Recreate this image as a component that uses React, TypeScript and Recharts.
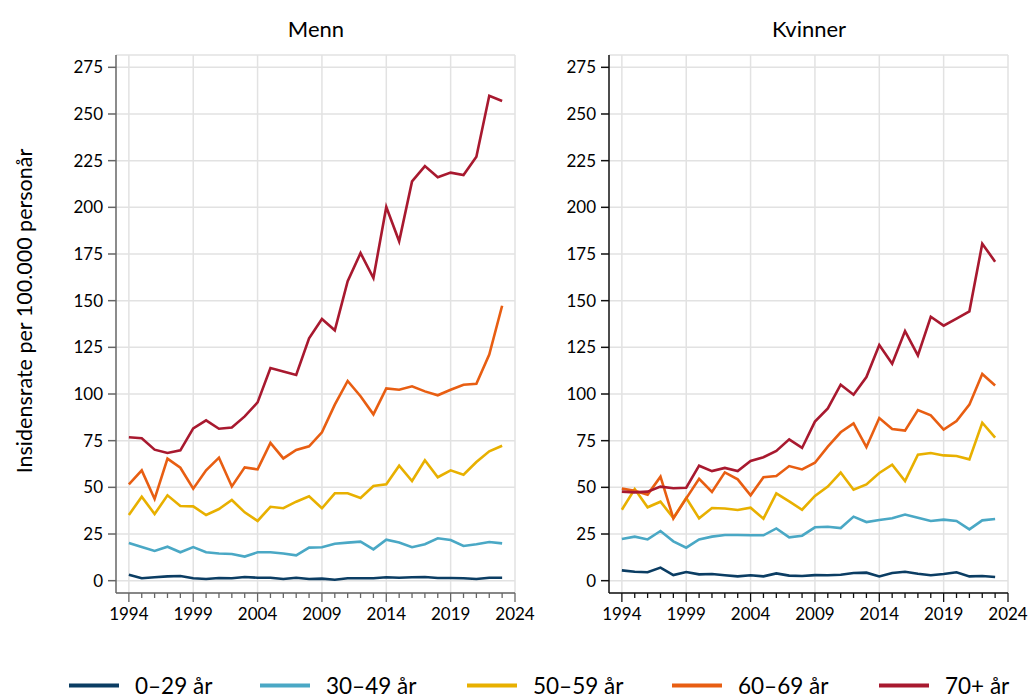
import React from 'react';
import { LineChart, Line, XAxis, YAxis, CartesianGrid, ReferenceLine } from 'recharts';

const years = [
  1994, 1995, 1996, 1997, 1998, 1999, 2000, 2001, 2002, 2003,
  2004, 2005, 2006, 2007, 2008, 2009, 2010, 2011, 2012, 2013,
  2014, 2015, 2016, 2017, 2018, 2019, 2020, 2021, 2022, 2023,
];
const xTicks = [...years, 2024];
const majorYears = [1994, 1999, 2004, 2009, 2014, 2019, 2024];
const yTicks = [0, 25, 50, 75, 100, 125, 150, 175, 200, 225, 250, 275];

const groups = ['0–29 år', '30–49 år', '50–59 år', '60–69 år', '70+ år'];
const groupKeys = ['g0', 'g1', 'g2', 'g3', 'g4'];
const groupColors = ['#0b3d63', '#4aa8c5', '#e8b000', '#e85e12', '#a8192f'];

// Menn
const menn0_29 = [3.2, 1.3, 1.8, 2.3, 2.5, 1.3, 0.9, 1.4, 1.3, 2.0, 1.6, 1.6, 0.9, 1.6, 0.9, 1.1, 0.5, 1.3, 1.3, 1.3, 1.8, 1.6, 1.8, 2.0, 1.4, 1.4, 1.3, 0.9, 1.6, 1.6];
const menn30_49 = [20.2, 18.0, 15.9, 18.2, 15.2, 18.0, 15.2, 14.6, 14.3, 12.9, 15.2, 15.2, 14.6, 13.6, 17.7, 17.9, 19.8, 20.4, 20.9, 16.8, 22.0, 20.5, 17.9, 19.5, 22.7, 21.8, 18.6, 19.5, 20.7, 20.0];
const menn50_59 = [35.2, 45.0, 35.7, 45.7, 40.0, 39.8, 35.2, 38.4, 43.2, 36.6, 32.0, 39.6, 38.8, 42.3, 45.2, 38.8, 46.8, 46.8, 44.3, 50.7, 51.6, 61.6, 53.4, 64.5, 55.4, 59.1, 56.8, 63.6, 69.3, 72.3];
const menn60_69 = [51.6, 59.1, 43.8, 65.4, 60.5, 49.3, 59.1, 65.9, 50.5, 60.7, 59.6, 73.8, 65.5, 70.0, 72.0, 79.5, 94.3, 107.0, 98.8, 89.1, 103.0, 102.3, 104.1, 101.4, 99.3, 102.3, 105.0, 105.5, 121.1, 147.3];
const menn70 = [76.8, 76.3, 70.2, 68.4, 69.8, 81.6, 85.9, 81.4, 82.0, 88.0, 95.5, 113.9, 112.1, 110.2, 129.8, 140.2, 134.1, 160.4, 175.5, 162.1, 200.2, 181.8, 213.9, 222.1, 216.1, 218.6, 217.3, 227.1, 259.8, 257.0];

// Kvinner
const kvinner0_29 = [5.5, 4.8, 4.5, 7.0, 3.0, 4.6, 3.4, 3.6, 2.9, 2.3, 2.9, 2.3, 3.9, 2.7, 2.5, 3.0, 2.9, 3.2, 4.1, 4.3, 2.3, 4.1, 4.8, 3.7, 2.9, 3.6, 4.5, 2.3, 2.5, 2.0];
const kvinner30_49 = [22.3, 23.6, 22.1, 26.6, 21.1, 17.7, 22.1, 23.6, 24.5, 24.5, 24.3, 24.3, 28.0, 23.2, 24.1, 28.6, 28.9, 28.2, 34.3, 31.4, 32.5, 33.4, 35.4, 33.7, 32.0, 32.7, 32.0, 27.5, 32.3, 33.0];
const kvinner50_59 = [38.0, 49.1, 39.3, 42.3, 33.6, 44.3, 33.4, 38.9, 38.7, 37.9, 39.1, 33.2, 46.8, 42.5, 38.0, 45.4, 50.4, 57.9, 48.7, 51.6, 57.7, 62.1, 53.4, 67.5, 68.4, 67.1, 66.8, 65.0, 84.6, 76.6];
const kvinner60_69 = [49.3, 48.2, 46.1, 55.7, 33.4, 44.1, 54.6, 47.5, 58.0, 54.3, 45.7, 55.4, 56.1, 61.4, 59.6, 63.2, 71.8, 79.5, 84.3, 71.6, 87.1, 81.2, 80.4, 91.4, 88.6, 80.9, 85.5, 94.3, 110.7, 104.6];
const kvinner70 = [47.7, 47.3, 47.7, 50.4, 49.5, 49.8, 61.6, 58.7, 60.4, 58.7, 64.1, 66.1, 69.5, 75.7, 71.1, 85.2, 92.3, 105.0, 99.6, 109.1, 126.2, 116.2, 133.7, 120.7, 141.4, 136.6, 140.4, 144.3, 180.5, 170.9];

const buildRows = (series: number[][]) =>
  years.map((year, i) => {
    const row: Record<string, number> = { year };
    series.forEach((s, k) => { row[groupKeys[k]] = s[i]; });
    return row;
  });

const mennData = buildRows([menn0_29, menn30_49, menn50_59, menn60_69, menn70]);
const kvinnerData = buildRows([kvinner0_29, kvinner30_49, kvinner50_59, kvinner60_69, kvinner70]);

const FONT = 'Lato, "Open Sans", sans-serif';

const XTick = (props: any) => {
  const { x, y, payload } = props;
  const major = majorYears.includes(payload.value);
  return (
    <g>
      <line x1={x} x2={x} y1={y} y2={y + (major ? 9 : 5)} stroke={props.axisColor} strokeWidth={1.3} />
      {major && (
        <text x={x} y={y + 27} textAnchor="middle" fontSize={17} fill="#000" fontFamily={FONT}>
          {payload.value}
        </text>
      )}
    </g>
  );
};

const Panel: React.FC<{ data: any[]; axisColor: string }> = ({ data, axisColor }) => (
  <LineChart width={535} height={640} data={data} margin={{ top: 55, right: 20, left: 0, bottom: 0 }}>
    <CartesianGrid horizontal vertical={false} stroke="#e2e2e2" strokeWidth={1.5} />
    {majorYears.map((yr) => (
      <ReferenceLine key={yr} x={yr} stroke="#e2e2e2" strokeWidth={1.5} />
    ))}
    <XAxis
      dataKey="year"
      type="number"
      domain={[1993, 2024]}
      ticks={xTicks}
      interval={0}
      tickSize={0}
      tickMargin={0}
      tickLine={false}
      height={47}
      stroke={axisColor}
      strokeWidth={1.5}
      tick={<XTick axisColor={axisColor} />}
    />
    <YAxis
      type="number"
      domain={[-6.6, 281.6]}
      ticks={yTicks}
      interval={0}
      width={116}
      tickSize={8}
      tickMargin={5}
      stroke={axisColor}
      strokeWidth={1.5}
      tick={{ fontSize: 17, fill: '#000', fontFamily: FONT }}
    />
    {groupKeys.map((k, i) => (
      <Line
        key={k}
        dataKey={k}
        name={groups[i]}
        type="linear"
        stroke={groupColors[i]}
        strokeWidth={2.6}
        dot={false}
        isAnimationActive={false}
      />
    ))}
  </LineChart>
);

const legendX = [69, 260, 467, 672, 879];

export default function App() {
  return (
    <div style={{ position: 'absolute', left: 0, top: 0, width: 1030, height: 698, overflow: 'hidden', background: '#fff', fontFamily: FONT, color: '#000' }}>
      <div style={{ position: 'absolute', left: 0, top: 0 }}>
        <Panel data={mennData} axisColor="#666" />
      </div>
      <div style={{ position: 'absolute', left: 493, top: 0 }}>
        <Panel data={kvinnerData} axisColor="#111" />
      </div>
      <div style={{ position: 'absolute', left: 316, top: 28, transform: 'translate(-50%, -50%)', fontSize: 22, whiteSpace: 'nowrap' }}>Menn</div>
      <div style={{ position: 'absolute', left: 809, top: 28, transform: 'translate(-50%, -50%)', fontSize: 22, whiteSpace: 'nowrap' }}>Kvinner</div>
      <div
        style={{
          position: 'absolute', left: 24, top: 311, transform: 'translate(-50%, -50%) rotate(-90deg)',
          fontSize: 21.5, whiteSpace: 'nowrap',
        }}
      >
        Insidensrate per 100.000 personår
      </div>
      {groups.map((g, i) => (
        <div key={g} style={{ position: 'absolute', left: legendX[i], top: 685, transform: 'translateY(-50%)', display: 'flex', alignItems: 'center' }}>
          <div style={{ width: 50, height: 4, background: groupColors[i] }} />
          <span style={{ marginLeft: 16, fontSize: 22.5, whiteSpace: 'nowrap' }}>{g}</span>
        </div>
      ))}
    </div>
  );
}
